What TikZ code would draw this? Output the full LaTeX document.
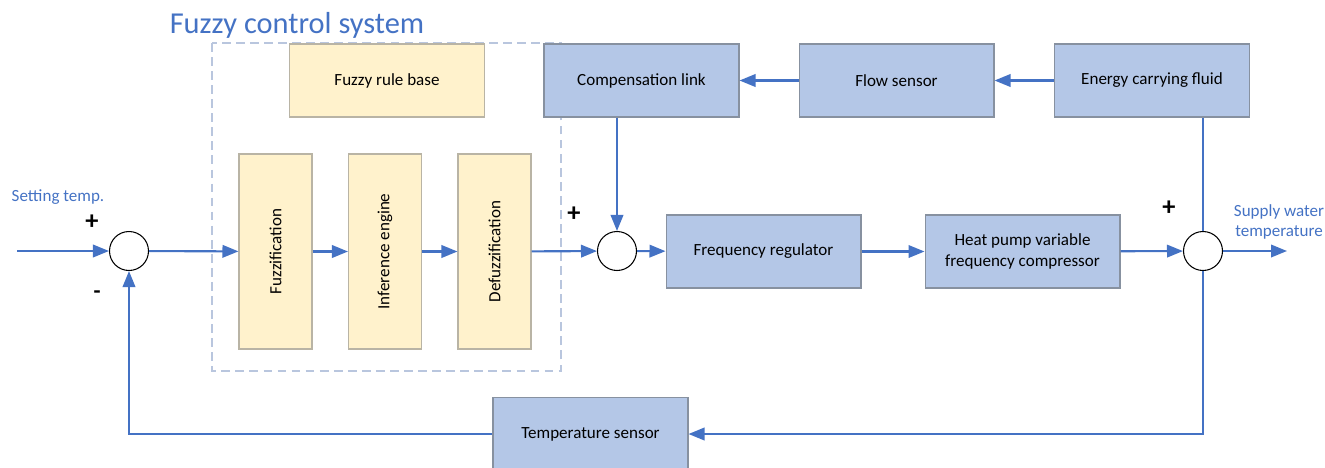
\documentclass[tikz,border=0pt]{standalone}
\usepackage{fontspec}
\setmainfont{Carlito}
\usetikzlibrary{arrows.meta}
\definecolor{lineblue}{RGB}{68,114,196}
\definecolor{boxblue}{RGB}{180,199,231}
\definecolor{boxyellow}{RGB}{255,242,204}
\definecolor{edgegrey}{RGB}{135,145,160}
\definecolor{edgetan}{RGB}{185,180,165}
\definecolor{dashblue}{RGB}{185,198,222}
\tikzset{
  blockb/.style={draw=edgegrey, fill=boxblue, line width=0.6pt, minimum width=3.9cm,
    minimum height=1.46cm, inner sep=0pt, align=center, font=\fontsize{9.7}{11.8}\selectfont},
  blocky/.style={blockb, draw=edgetan, fill=boxyellow},
  blockv/.style={blocky, minimum width=1.46cm, minimum height=3.9cm},
  sumnode/.style={draw=black, fill=white, circle, line width=0.6pt, minimum size=0.78cm, inner sep=0pt},
  sig/.style={lineblue, line width=1.2pt, -{Triangle[length=3.2mm,width=2.5mm]}},
  wire/.style={lineblue, line width=1.2pt},
  bluetext/.style={text=lineblue, font=\fontsize{9.7}{11.8}\selectfont, align=center},
  signtext/.style={font=\fontsize{15}{15}\selectfont\bfseries}
}
\begin{document}
\begin{tikzpicture}[x=0.02cm,y=-0.02cm]
\useasboundingbox (0,0) rectangle (1325,467);
%fuzzy controller frame
\draw[dashblue, line width=0.6pt, dash pattern=on 5pt off 3pt] (212,43) rectangle (561,371);
\node[text=lineblue, font=\fontsize{17.3}{20}\selectfont] (title) at (297,25) {Fuzzy control system};
\node[blocky] (rulebase) at (387,80.5) {Fuzzy rule base};
\node[blockv] (fuzz) at (275.5,251.5) {\rotatebox{90}{Fuzzification}};
\node[blockv] (infer) at (385,251.5) {\rotatebox{90}{Inference engine}};
\node[blockv] (defuzz) at (494.5,251.5) {\rotatebox{90}{Defuzzification}};
%plant and sensors
\node[blockb] (comp) at (641.5,80.5) {Compensation link};
\node[blockb] (flow) at (896.5,80.5) {Flow sensor};
\node[blockb] (fluid) at (1152,80.5) {Energy carrying fluid};
\node[blockb] (freq) at (763.5,251.5) {Frequency regulator};
\node[blockb] (pump) at (1022.5,251.5) {Heat pump variable\\frequency compressor};
\node[blockb] (tsensor) at (590.5,434) {Temperature sensor};
\node[sumnode] (sumA) at (129,251) {};
\node[sumnode] (sumB) at (617,251) {};
\node[sumnode] (sumC) at (1203,251) {};
\coordinate (input) at (17,251);
\coordinate (output) at (1287,251);
%labels
\node[bluetext] (setlbl) at (58,197) {Setting temp.};
\node[bluetext] (outlbl) at (1279,222) {Supply water\\temperature};
\node[signtext] (plusA) at (92,222) {+};
\node[signtext, font=\fontsize{13}{13}\selectfont\bfseries] (minusA) at (97,295) {-};
\node[signtext] (plusB) at (574,214) {+};
\node[signtext] (plusC) at (1169,208) {+};
%signal paths
\draw[sig] (input) -- (sumA);
\draw[sig] (sumA) -- (fuzz);
\draw[sig] (fuzz) -- (infer);
\draw[sig] (infer) -- (defuzz);
\draw[sig] (defuzz) -- (sumB);
\draw[sig] (sumB) -- (freq);
\draw[sig] (freq) -- (pump);
\draw[sig] (pump) -- (sumC);
\draw[sig] (sumC) -- (output);
\draw[sig] (fluid) -- (flow);
\draw[sig] (flow) -- (comp);
\draw[sig] (comp.south -| sumB) -- (sumB);
\draw[wire] (fluid.south -| sumC) -- (sumC);
\draw[sig] (sumC) |- (tsensor);
\draw[sig] (tsensor) -| (sumA);
\end{tikzpicture}
\end{document}
